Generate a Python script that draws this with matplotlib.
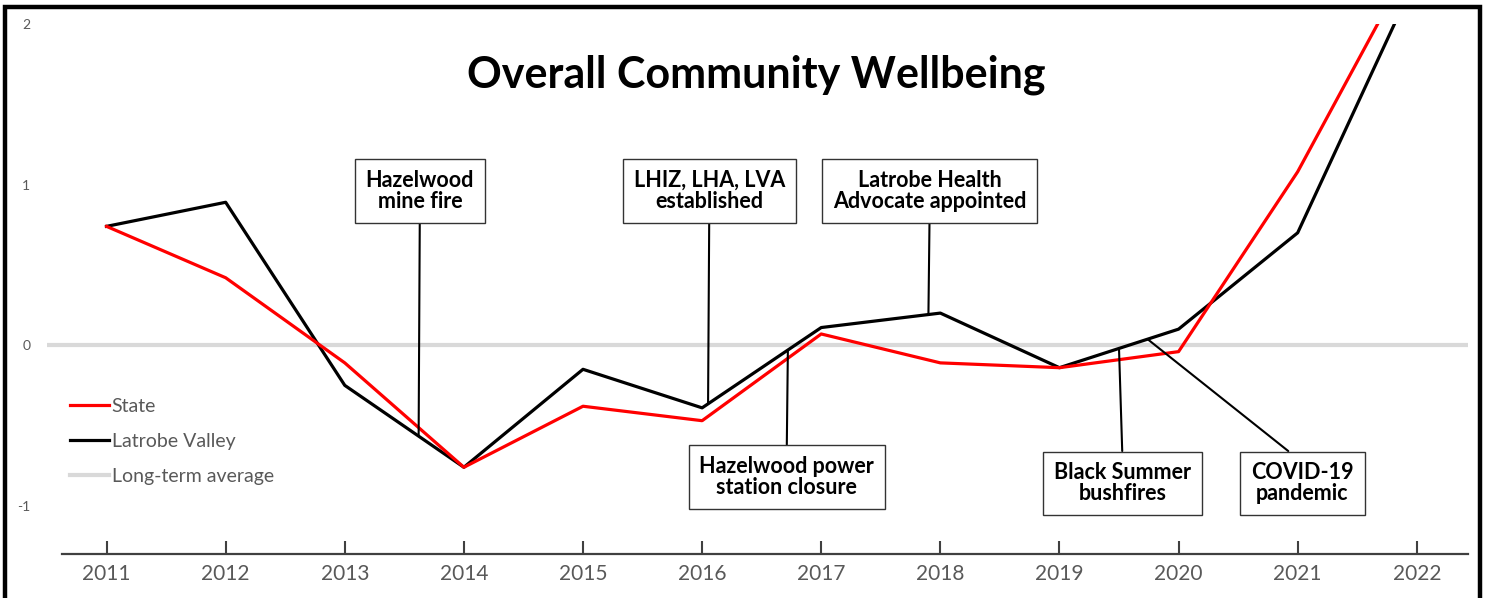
import matplotlib
matplotlib.use("Agg")
import matplotlib.pyplot as plt
import numpy as np
from matplotlib.patches import Rectangle

# --- data ---
years = [2011, 2012, 2013, 2014, 2015, 2016, 2017, 2018, 2019, 2020, 2021, 2022]
state = [0.74, 0.42, -0.11, -0.76, -0.38, -0.47, 0.07, -0.11, -0.14, -0.04, 1.08, 2.45]
latrobe = [0.74, 0.89, -0.25, -0.76, -0.15, -0.39, 0.11, 0.20, -0.14, 0.10, 0.70, 2.30]
long_term_avg = 0.0

event_labels = [
    "Hazelwood\nmine fire",
    "LHIZ, LHA, LVA\nestablished",
    "Latrobe Health\nAdvocate appointed",
    "Hazelwood power\nstation closure",
    "Black Summer\nbushfires",
    "COVID-19\npandemic",
]
event_x = [2013.62, 2016.05, 2017.90, 2016.72, 2019.50, 2019.74]

# box centres (layout only)
box_pos = [(2013.63, 0.96), (2016.06, 0.96), (2017.91, 0.96),
           (2016.71, -0.82), (2019.53, -0.86), (2021.04, -0.86)]

# --- plot ---
plt.rcParams["font.family"] = ["Lato", "DejaVu Sans"]
plt.rcParams["axes.unicode_minus"] = False
grey_txt = "#595959"

fig = plt.figure(figsize=(14.86, 5.98), dpi=100)
ax = fig.add_axes([47 / 1486, 1 - 554 / 598, (1468 - 47) / 1486, 530 / 598])

ax.axhline(long_term_avg, color="#d9d9d9", lw=3, label="Long-term average", zorder=1)
ax.plot(years, latrobe, color="black", lw=2.3, label="Latrobe Valley", zorder=3)
ax.plot(years, state, color="#ff0000", lw=2.3, label="State", zorder=4)

ax.set_xlim(2010.5, 2022.43)
ax.set_ylim(-1.3, 2)
ax.set_xticks(years)
ax.set_yticks([-1, 0, 1, 2])
ax.set_yticklabels(["-1", "0", "1", "2"])

for s in ["top", "right", "left"]:
    ax.spines[s].set_visible(False)
ax.spines["bottom"].set_bounds(2010.63, 2022.43)
ax.spines["bottom"].set_color("#404040")
ax.spines["bottom"].set_linewidth(1.6)
ax.tick_params(axis="x", direction="in", length=9.5, width=1.5, color="#404040",
               labelsize=15, labelcolor=grey_txt, pad=7)
ax.tick_params(axis="y", length=0, labelsize=10, labelcolor=grey_txt, pad=12)

# event call-outs
for lab, ex, (bx, by) in zip(event_labels, event_x, box_pos):
    ey = np.interp(ex, years, latrobe)
    rel = (0.5, 0) if by > ey else (0.5, 1)
    ax.annotate(lab, xy=(ex, ey), xytext=(bx, by), textcoords="data",
                ha="center", va="center", fontsize=15.5, fontweight="bold",
                linespacing=1.0, zorder=5,
                bbox=dict(boxstyle="square,pad=0.5", fc="white", ec="#333333", lw=1),
                arrowprops=dict(arrowstyle="-", color="black", lw=1.5,
                                shrinkA=0, shrinkB=0, relpos=rel))

fig.text(756 / 1486, 1 - 75 / 598, "Overall Community Wellbeing", ha="center",
         va="center", fontsize=31, fontweight="bold")

h, l = ax.get_legend_handles_labels()
order = [2, 1, 0]
fig.legend([h[i] for i in order], [l[i] for i in order], loc="upper left",
           bbox_to_anchor=(70 / 1486, 1 - 398 / 598), frameon=False,
           fontsize=14, labelcolor=grey_txt, handlelength=2.0,
           handletextpad=0.15, labelspacing=0.92, borderpad=0, borderaxespad=0)

# outer frame
fig.patches.append(Rectangle((5 / 1486, -0.05), (1479.5 - 5) / 1486, 1.05 - 6.5 / 598,
                             transform=fig.transFigure, fill=False, ec="black", lw=3.2))

fig.savefig("out.png", dpi=100)
